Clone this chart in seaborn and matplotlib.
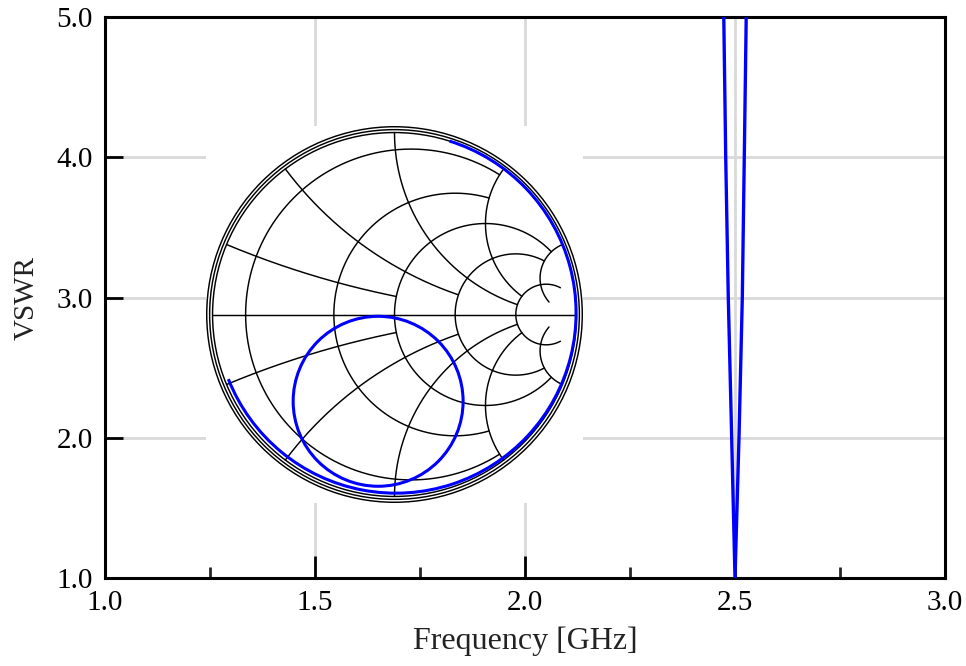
import numpy as np
import matplotlib
matplotlib.use("Agg")
import matplotlib.pyplot as plt
import seaborn as sns
from matplotlib.patches import Circle, Arc

# ---- VSWR vs frequency ----
freq_ghz = [2.4733, 2.4779, 2.4840, 2.4921, 2.5000, 2.5095, 2.5174, 2.5221, 2.5267]
vswr = [5.0, 4.0, 3.0, 2.0, 1.0, 2.0, 3.0, 4.0, 5.0]

x_major = [1.0, 1.5, 2.0, 2.5, 3.0]
x_minor = [1.25, 1.75, 2.25, 2.75]
x_labels = ["1.0", "1.5", "2.0", "2.5", "3.0"]
y_major = [1.0, 2.0, 3.0, 4.0, 5.0]
y_labels = ["1.0", "2.0", "3.0", "4.0", "5.0"]

# ---- Smith chart grid (normalised impedance values) ----
smith_r_values = [0.1, 0.5, 1.0, 2.0, 5.0]
smith_r_xlimit = [2.0, 2.0, 5.0, 5.0, 10.0]
smith_x_values = [0.2, 0.5, 1.0, 2.0, 5.0]
smith_x_rlimit = [1.0, 2.0, 5.0, 5.0, 10.0]
smith_border_radii = [1.0, 1.016, 1.032]

# ---- S11 trace on the Smith chart (reflection-coefficient plane) ----
edge_arc_center = (0.008, 0.008)
edge_arc_radius = 0.99
edge_arc_theta1 = -158.5
edge_arc_theta2 = 72.7
loop_center = (-0.09, -0.477)
loop_radius = 0.467

sns.set_theme(style="white")
plt.rcParams['font.family'] = ['Liberation Serif', 'DejaVu Serif']

BLUE = '#0000ff'

fig = plt.figure(figsize=(9.66, 6.66), dpi=100)
ax = fig.add_axes([105 / 966, 1 - 578 / 666, 840 / 966, 561 / 666])

sns.lineplot(x=freq_ghz, y=vswr, sort=False, estimator=None, ax=ax,
             color=BLUE, linewidth=2.4, zorder=4)

ax.set_xlim(1.0, 3.0)
ax.set_ylim(1.0, 5.0)
ax.set_xticks(x_major)
ax.set_xticklabels(x_labels)
ax.set_xticks(x_minor, minor=True)
ax.set_yticks(y_major)
ax.set_yticklabels(y_labels)
ax.grid(True, which='major', color='#d9d9d9', linewidth=2.0, zorder=0)
ax.set_axisbelow(True)

ax.tick_params(axis='x', which='major', direction='in', length=16, width=2,
               labelsize=21, pad=9, colors='black', bottom=True, top=False)
ax.tick_params(axis='x', which='minor', direction='in', length=8, width=2,
               bottom=True, top=False)
ax.tick_params(axis='y', which='major', direction='in', length=13, width=2,
               labelsize=21, pad=9, colors='black', left=True, right=False)
for s in ax.spines.values():
    s.set_visible(True)
    s.set_color('black')
    s.set_linewidth(2.2)

ax.set_xlabel("Frequency [GHz]", fontsize=23, labelpad=7, color='#222222')
ax.set_ylabel("VSWR", fontsize=21, labelpad=12, color='#222222')

# ---- Smith chart inset ----
sz = 377
sax = fig.add_axes([206 / 966, 1 - 503 / 666, sz / 966, sz / 666])
sax.set_xlim(-1.036, 1.036)
sax.set_ylim(-1.036, 1.036)
sax.set_facecolor('white')
sax.set_xticks([])
sax.set_yticks([])
sax.grid(False)
for s in sax.spines.values():
    s.set_visible(False)

GRID_LW = 1.05


def to_gamma(z):
    return (z - 1) / (z + 1)


for r, xm in zip(smith_r_values, smith_r_xlimit):
    t = np.linspace(-np.arctan(xm), np.arctan(xm), 600)
    g = to_gamma(r + 1j * np.tan(t))
    sax.plot(g.real, g.imag, color='black', lw=GRID_LW, zorder=2)

for xv, rm in zip(smith_x_values, smith_x_rlimit):
    t = np.linspace(0, np.arctan(rm), 600)
    for sgn in (1, -1):
        g = to_gamma(np.tan(t) + 1j * sgn * xv)
        sax.plot(g.real, g.imag, color='black', lw=GRID_LW, zorder=2)

sax.plot([-1, 1], [0, 0], color='black', lw=GRID_LW, zorder=2)
for rb in smith_border_radii:
    sax.add_patch(Circle((0, 0), rb, fill=False, ec='black', lw=GRID_LW, zorder=2))

sax.add_patch(Arc(edge_arc_center, 2 * edge_arc_radius, 2 * edge_arc_radius,
                  theta1=edge_arc_theta1, theta2=edge_arc_theta2,
                  color=BLUE, lw=2.2, zorder=5))
sax.add_patch(Circle(loop_center, loop_radius, fill=False, ec=BLUE, lw=2.2, zorder=5))

fig.savefig("out.png", dpi=100)
